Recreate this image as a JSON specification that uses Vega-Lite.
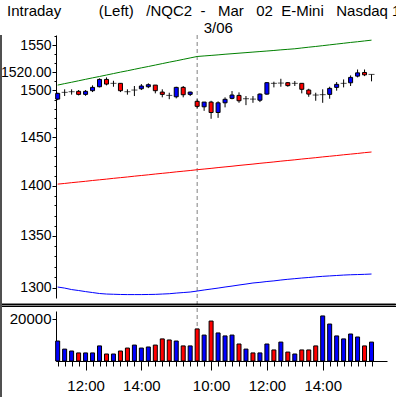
{
  "$schema": "https://vega.github.io/schema/vega-lite/v6.json",
  "width": 331,
  "height": 326,
  "autosize": {"type": "none"},
  "padding": {"left": 56, "top": 35, "right": 9, "bottom": 36},
  "background": "white",
  "title": {
    "text": "Intraday\u00a0\u00a0\u00a0\u00a0\u00a0\u00a0\u00a0\u00a0\u00a0(Left)\u00a0\u00a0\u00a0/NQC2\u00a0\u00a0-\u00a0\u00a0\u00a0Mar\u00a0\u00a0\u00a002\u00a0\u00a0E-Mini\u00a0\u00a0\u00a0Nasdaq\u00a01",
    "anchor": "start",
    "frame": "group",
    "dx": -49,
    "offset": 0,
    "dy": -1,
    "font": "Liberation Sans",
    "fontSize": 15,
    "fontWeight": "normal",
    "color": "black"
  },
  "config": {
    "view": {"stroke": null},
    "axis": {
      "labelFont": "Liberation Sans",
      "labelFontSize": 15,
      "labelColor": "black",
      "domainColor": "black",
      "tickColor": "black",
      "grid": false,
      "title": null,
      "labelOverlap": false,
      "labelFlush": false
    }
  },
  "datasets": {
    "bars": [
      {"i":0,"o":1490.5,"h":1497.4,"l":1489.4,"c":1496.7,"v":9400,"dir":"up","vdir":"up","upper":1505.7,"mid":1401.5,"lower":1300.9},
      {"i":1,"o":1497.8,"h":1501.1,"l":1493.8,"c":1497.8,"v":5600,"dir":"flat","vdir":"up","upper":1507.3,"mid":1402.2,"lower":1299.9},
      {"i":2,"o":1498.5,"h":1501.1,"l":1495.3,"c":1498.5,"v":4700,"dir":"flat","vdir":"up","upper":1508.8,"mid":1403.0,"lower":1298.5},
      {"i":3,"o":1498.9,"h":1500.3,"l":1494.5,"c":1495.6,"v":3800,"dir":"down","vdir":"down","upper":1510.4,"mid":1403.7,"lower":1297.6},
      {"i":4,"o":1495.6,"h":1500.3,"l":1494.0,"c":1498.9,"v":3800,"dir":"up","vdir":"up","upper":1512.0,"mid":1404.4,"lower":1296.6},
      {"i":5,"o":1499.6,"h":1505.4,"l":1498.1,"c":1503.2,"v":3800,"dir":"up","vdir":"up","upper":1513.6,"mid":1405.2,"lower":1295.7},
      {"i":6,"o":1503.9,"h":1513.0,"l":1503.2,"c":1511.9,"v":7100,"dir":"up","vdir":"up","upper":1515.1,"mid":1405.9,"lower":1294.8},
      {"i":7,"o":1511.9,"h":1514.1,"l":1505.4,"c":1506.8,"v":3300,"dir":"down","vdir":"down","upper":1516.7,"mid":1406.6,"lower":1294.3},
      {"i":8,"o":1507.6,"h":1510.4,"l":1503.9,"c":1507.6,"v":3300,"dir":"flat","vdir":"up","upper":1518.3,"mid":1407.4,"lower":1294.1},
      {"i":9,"o":1507.6,"h":1507.6,"l":1498.1,"c":1499.6,"v":4700,"dir":"down","vdir":"down","upper":1519.9,"mid":1408.1,"lower":1293.9},
      {"i":10,"o":1498.5,"h":1501.1,"l":1495.3,"c":1498.5,"v":6100,"dir":"flat","vdir":"down","upper":1521.4,"mid":1408.8,"lower":1293.8},
      {"i":11,"o":1500.3,"h":1504.7,"l":1493.8,"c":1500.3,"v":7500,"dir":"flat","vdir":"up","upper":1523.0,"mid":1409.6,"lower":1293.8},
      {"i":12,"o":1501.7,"h":1506.8,"l":1500.3,"c":1504.7,"v":6100,"dir":"up","vdir":"up","upper":1524.6,"mid":1410.3,"lower":1293.8},
      {"i":13,"o":1503.9,"h":1507.6,"l":1502.4,"c":1506.1,"v":6600,"dir":"up","vdir":"up","upper":1526.1,"mid":1411.0,"lower":1293.9},
      {"i":14,"o":1505.7,"h":1505.7,"l":1496.7,"c":1499.6,"v":7500,"dir":"down","vdir":"down","upper":1527.7,"mid":1411.8,"lower":1294.0},
      {"i":15,"o":1498.1,"h":1501.1,"l":1492.4,"c":1495.6,"v":10400,"dir":"down","vdir":"down","upper":1529.3,"mid":1412.5,"lower":1294.3},
      {"i":16,"o":1494.5,"h":1497.4,"l":1490.4,"c":1494.5,"v":9900,"dir":"flat","vdir":"down","upper":1530.9,"mid":1413.2,"lower":1294.6},
      {"i":17,"o":1493.0,"h":1503.9,"l":1491.3,"c":1503.2,"v":9400,"dir":"up","vdir":"up","upper":1532.4,"mid":1414.0,"lower":1295.2},
      {"i":18,"o":1503.2,"h":1504.7,"l":1492.4,"c":1495.2,"v":7100,"dir":"down","vdir":"down","upper":1534.0,"mid":1414.7,"lower":1295.7},
      {"i":19,"o":1495.6,"h":1498.5,"l":1493.8,"c":1498.1,"v":7100,"dir":"up","vdir":"up","upper":1535.6,"mid":1415.4,"lower":1296.2},
      {"i":20,"o":1488.1,"h":1490.3,"l":1480.6,"c":1482.7,"v":15100,"dir":"down","vdir":"down","upper":1537.2,"mid":1416.2,"lower":1297.1},
      {"i":21,"o":1482.2,"h":1487.3,"l":1477.9,"c":1487.3,"v":12200,"dir":"up","vdir":"up","upper":1537.8,"mid":1416.9,"lower":1298.1},
      {"i":22,"o":1487.3,"h":1488.7,"l":1469.4,"c":1476.1,"v":18800,"dir":"down","vdir":"down","upper":1538.4,"mid":1417.6,"lower":1299.0},
      {"i":23,"o":1476.1,"h":1488.1,"l":1470.4,"c":1486.5,"v":13200,"dir":"up","vdir":"up","upper":1539.0,"mid":1418.4,"lower":1299.9},
      {"i":24,"o":1486.5,"h":1492.4,"l":1481.6,"c":1490.3,"v":11800,"dir":"up","vdir":"up","upper":1539.7,"mid":1419.1,"lower":1300.9},
      {"i":25,"o":1491.3,"h":1499.2,"l":1490.3,"c":1494.9,"v":12200,"dir":"up","vdir":"up","upper":1540.3,"mid":1419.8,"lower":1301.8},
      {"i":26,"o":1494.5,"h":1497.8,"l":1486.5,"c":1488.7,"v":8000,"dir":"down","vdir":"down","upper":1540.9,"mid":1420.6,"lower":1302.8},
      {"i":27,"o":1490.9,"h":1493.8,"l":1484.0,"c":1490.9,"v":5600,"dir":"flat","vdir":"up","upper":1541.5,"mid":1421.3,"lower":1303.7},
      {"i":28,"o":1490.5,"h":1493.8,"l":1486.5,"c":1490.5,"v":3800,"dir":"flat","vdir":"down","upper":1542.1,"mid":1422.0,"lower":1304.7},
      {"i":29,"o":1489.3,"h":1496.7,"l":1487.3,"c":1495.9,"v":3800,"dir":"up","vdir":"up","upper":1542.7,"mid":1422.8,"lower":1305.3},
      {"i":30,"o":1495.9,"h":1509.0,"l":1495.2,"c":1508.3,"v":8000,"dir":"up","vdir":"up","upper":1543.3,"mid":1423.5,"lower":1306.1},
      {"i":31,"o":1507.6,"h":1509.4,"l":1503.2,"c":1507.6,"v":5200,"dir":"flat","vdir":"down","upper":1543.9,"mid":1424.2,"lower":1306.7},
      {"i":32,"o":1507.9,"h":1512.6,"l":1503.9,"c":1507.9,"v":8900,"dir":"flat","vdir":"up","upper":1544.6,"mid":1425.0,"lower":1307.5},
      {"i":33,"o":1508.3,"h":1509.0,"l":1503.9,"c":1505.1,"v":4200,"dir":"down","vdir":"down","upper":1545.2,"mid":1425.7,"lower":1308.2},
      {"i":34,"o":1507.6,"h":1510.1,"l":1504.7,"c":1507.6,"v":3300,"dir":"flat","vdir":"up","upper":1545.8,"mid":1426.4,"lower":1308.8},
      {"i":35,"o":1507.6,"h":1507.6,"l":1496.7,"c":1501.1,"v":5200,"dir":"down","vdir":"down","upper":1546.7,"mid":1427.2,"lower":1309.4},
      {"i":36,"o":1500.3,"h":1501.7,"l":1493.0,"c":1495.9,"v":5200,"dir":"down","vdir":"down","upper":1547.6,"mid":1427.9,"lower":1309.9},
      {"i":37,"o":1494.9,"h":1497.4,"l":1488.7,"c":1494.9,"v":7100,"dir":"flat","vdir":"down","upper":1548.4,"mid":1428.6,"lower":1310.5},
      {"i":38,"o":1495.3,"h":1501.1,"l":1486.5,"c":1495.3,"v":21200,"dir":"flat","vdir":"up","upper":1549.3,"mid":1429.4,"lower":1311.0},
      {"i":39,"o":1495.6,"h":1503.9,"l":1490.9,"c":1502.1,"v":17400,"dir":"up","vdir":"up","upper":1550.2,"mid":1430.1,"lower":1311.4},
      {"i":40,"o":1503.2,"h":1509.0,"l":1499.6,"c":1506.5,"v":11800,"dir":"up","vdir":"up","upper":1551.1,"mid":1430.8,"lower":1311.8},
      {"i":41,"o":1507.6,"h":1511.9,"l":1503.2,"c":1507.6,"v":10400,"dir":"flat","vdir":"up","upper":1552.0,"mid":1431.6,"lower":1312.2},
      {"i":42,"o":1508.2,"h":1516.3,"l":1504.7,"c":1514.1,"v":12700,"dir":"up","vdir":"up","upper":1552.9,"mid":1432.3,"lower":1312.5},
      {"i":43,"o":1515.5,"h":1522.8,"l":1514.1,"c":1519.1,"v":11300,"dir":"up","vdir":"up","upper":1553.7,"mid":1433.0,"lower":1312.7},
      {"i":44,"o":1519.5,"h":1522.8,"l":1515.5,"c":1516.9,"v":7100,"dir":"down","vdir":"down","upper":1554.6,"mid":1433.8,"lower":1312.9},
      {"i":45,"o":1517.4,"h":1517.4,"l":1509.8,"c":1517.4,"v":8900,"dir":"flat","vdir":"up","upper":1555.5,"mid":1434.5,"lower":1313.2}
    ],
    "day": [{"i": 20, "label": "3/06"}]
  },
  "data": {"name": "bars"},
  "resolve": {"scale": {"x": "independent", "y": "independent"}, "axis": {"x": "independent", "y": "independent"}},
  "layer": [
    {
      "data": {"name": "day"},
      "mark": {"type": "rule", "color": "#808080", "strokeDash": [4, 3], "strokeWidth": 1},
      "encoding": {
        "x": {
          "field": "i", "type": "quantitative",
          "scale": {"domain": [-0.24, 47.22], "nice": false, "zero": false, "padding": 0},
          "axis": {
            "orient": "top", "values": [20], "labelExpr": "'3/06'",
            "ticks": false, "domain": false, "labelPadding": 0,
            "labelAlign": "left", "labelOffset": 6
          }
        }
      }
    },
    {
      "mark": {"type": "line", "color": "#008000", "strokeWidth": 1},
      "encoding": {
        "x": {"field": "i", "type": "quantitative", "scale": {"domain": [-0.24, 47.22], "nice": false, "zero": false, "padding": 0}, "axis": null},
        "y": {
          "field": "upper", "type": "quantitative",
          "scale": {"type": "log", "domain": [1290.6, 1561.3], "range": [263, 0], "nice": false, "zero": false, "padding": 0},
          "axis": {
            "orient": "left",
            "values": [1300, 1350, 1400, 1450, 1500, 1520, 1550],
            "labelExpr": "datum.value == 1520 ? '1520.00' : toString(datum.value)",
            "tickSize": 4,
            "labelPadding": 1,
            "labelFontSize": 14
          }
        }
      }
    },
    {
      "mark": {"type": "line", "color": "#FF0000", "strokeWidth": 1},
      "encoding": {
        "x": {"field": "i", "type": "quantitative", "scale": {"domain": [-0.24, 47.22], "nice": false, "zero": false, "padding": 0}, "axis": null},
        "y": {
          "field": "mid", "type": "quantitative",
          "scale": {"type": "log", "domain": [1290.6, 1561.3], "range": [263, 0], "nice": false, "zero": false, "padding": 0},
          "axis": {
            "orient": "left",
            "values": [1300,1310,1320,1330,1340,1350,1360,1370,1380,1390,1400,1410,1420,1430,1440,1450,1460,1470,1480,1490,1500,1510,1520,1530,1540,1550,1560],
            "labels": false,
            "domain": false,
            "tickSize": 2
          }
        }
      }
    },
    {
      "mark": {"type": "line", "color": "#0000FF", "strokeWidth": 1},
      "encoding": {
        "x": {"field": "i", "type": "quantitative", "scale": {"domain": [-0.24, 47.22], "nice": false, "zero": false, "padding": 0}, "axis": null},
        "y": {"field": "lower", "type": "quantitative", "scale": {"type": "log", "domain": [1290.6, 1561.3], "range": [263, 0], "nice": false, "zero": false, "padding": 0}, "axis": null}
      }
    },
    {
      "mark": {"type": "rule", "color": "black", "strokeWidth": 1},
      "encoding": {
        "x": {"field": "i", "type": "quantitative", "scale": {"domain": [-0.24, 47.22], "nice": false, "zero": false, "padding": 0}, "axis": null},
        "y": {"field": "l", "type": "quantitative", "scale": {"type": "log", "domain": [1290.6, 1561.3], "range": [263, 0], "nice": false, "zero": false, "padding": 0}, "axis": null},
        "y2": {"field": "h"}
      }
    },
    {
      "transform": [{"filter": "datum.dir != 'flat'"}],
      "mark": {"type": "bar", "width": 4, "stroke": "black", "strokeWidth": 1},
      "encoding": {
        "x": {"field": "i", "type": "quantitative", "scale": {"domain": [-0.24, 47.22], "nice": false, "zero": false, "padding": 0}, "axis": null},
        "y": {"field": "o", "type": "quantitative", "scale": {"type": "log", "domain": [1290.6, 1561.3], "range": [263, 0], "nice": false, "zero": false, "padding": 0}, "axis": null},
        "y2": {"field": "c"},
        "color": {"field": "dir", "type": "nominal", "scale": {"domain": ["up", "down"], "range": ["#0000FF", "#FF0000"]}, "legend": null}
      }
    },
    {
      "transform": [{"filter": "datum.dir == 'flat'"}],
      "mark": {"type": "tick", "orient": "horizontal", "size": 6, "thickness": 1, "color": "black"},
      "encoding": {
        "x": {"field": "i", "type": "quantitative", "scale": {"domain": [-0.24, 47.22], "nice": false, "zero": false, "padding": 0}, "axis": null},
        "y": {"field": "c", "type": "quantitative", "scale": {"type": "log", "domain": [1290.6, 1561.3], "range": [263, 0], "nice": false, "zero": false, "padding": 0}, "axis": null}
      }
    },
    {
      "mark": {"type": "bar", "width": 4, "stroke": "black", "strokeWidth": 1},
      "encoding": {
        "x": {
          "field": "i", "type": "quantitative",
          "scale": {"domain": [-0.24, 47.22], "nice": false, "zero": false, "padding": 0},
          "axis": {
            "orient": "bottom",
            "values": [0,1,2,3,4,5,6,7,8,9,10,11,12,13,14,15,16,17,18,19,20,21,22,23,24,25,26,27,28,29,30,31,32,33,34,35,36,37,38,39,40,41,42,43,44,45],
            "labels": false,
            "tickSize": 5
          }
        },
        "y": {
          "field": "v", "type": "quantitative",
          "scale": {"domain": [0, 23530], "range": [326, 276], "nice": false, "zero": false, "padding": 0},
          "axis": {"orient": "left", "values": [20000], "labelExpr": "toString(datum.value)", "tickSize": 4, "labelPadding": 1}
        },
        "color": {"field": "vdir", "type": "nominal", "scale": {"domain": ["up", "down"], "range": ["#0000FF", "#FF0000"]}, "legend": null}
      }
    },
    {
      "mark": {"type": "rule", "color": "black", "strokeWidth": 1},
      "encoding": {
        "x": {
          "datum": -8.3, "type": "quantitative",
          "scale": {"domain": [-0.24, 47.22], "nice": false, "zero": false, "padding": 0},
          "axis": {
            "orient": "bottom",
            "values": [4, 12, 22, 30, 38],
            "labelExpr": "(datum.value == 4 || datum.value == 30) ? '12:00' : ((datum.value == 12 || datum.value == 38) ? '14:00' : '10:00')",
            "tickSize": 9,
            "domain": false,
            "labelPadding": 8
          }
        },
        "x2": {"datum": 48.5},
        "y": {"datum": 26589, "type": "quantitative", "scale": {"domain": [0, 23530], "range": [326, 276], "nice": false, "zero": false, "padding": 0}, "axis": null}
      }
    },
    {
      "mark": {"type": "rule", "color": "black", "strokeWidth": 1},
      "encoding": {
        "x": {"datum": -8.3, "type": "quantitative", "scale": {"domain": [-0.24, 47.22], "nice": false, "zero": false, "padding": 0}, "axis": null},
        "x2": {"datum": 48.5},
        "y": {"datum": 25648, "type": "quantitative", "scale": {"domain": [0, 23530], "range": [326, 276], "nice": false, "zero": false, "padding": 0}, "axis": null}
      }
    },
    {
      "mark": {"type": "rule", "color": "#505050", "strokeWidth": 1.5},
      "encoding": {
        "x": {"datum": -8.126, "type": "quantitative", "scale": {"domain": [-0.24, 47.22], "nice": false, "zero": false, "padding": 0}, "axis": null},
        "y": {"datum": 153415, "type": "quantitative", "scale": {"domain": [0, 23530], "range": [326, 276], "nice": false, "zero": false, "padding": 0}, "axis": null},
        "y2": {"datum": -16942}
      }
    }
  ]
}
